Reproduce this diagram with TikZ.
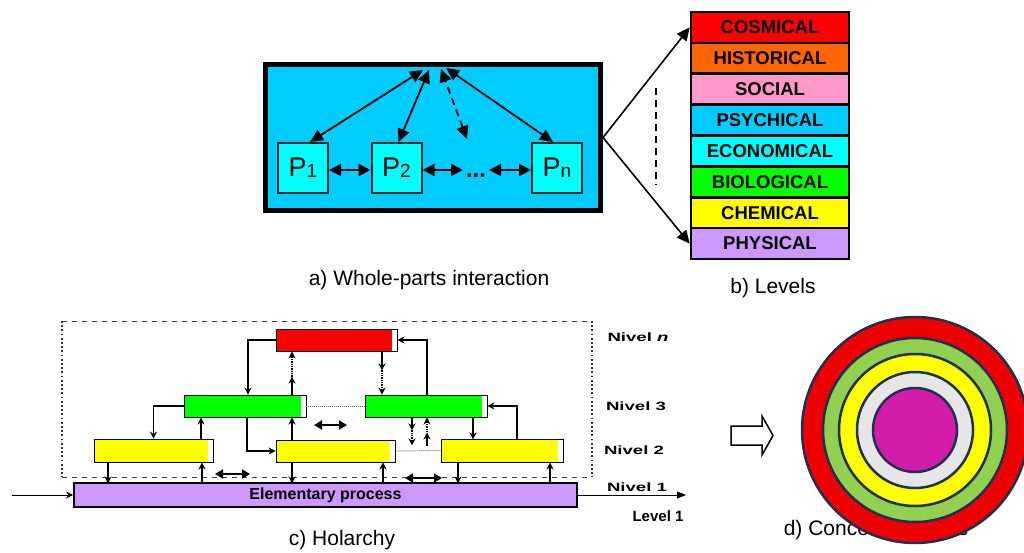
\documentclass[tikz,border=0pt]{standalone}
\usepackage{fontspec}
\setmainfont{Liberation Sans}
\usetikzlibrary{arrows.meta}
\definecolor{skyA}{HTML}{00CCFF}
\definecolor{cyanP}{HTML}{00FFFF}
\definecolor{cRed}{HTML}{FF0000}
\definecolor{cOrange}{HTML}{FF6600}
\definecolor{cPink}{HTML}{FF99CC}
\definecolor{cGreen}{HTML}{00FF00}
\definecolor{cYellow}{HTML}{FFFF00}
\definecolor{cPurple}{HTML}{CC99FF}
\definecolor{rRed}{HTML}{EE0000}
\definecolor{rGreen}{HTML}{92D050}
\definecolor{rGray}{HTML}{E6E6E6}
\definecolor{rMag}{HTML}{D21DAA}
\definecolor{rLine}{HTML}{1F3050}
\begin{document}
\begin{tikzpicture}[x=1pt,y=-1pt,
  pbox/.style={draw=black!85, line width=2, fill=cyanP, minimum width=50, minimum height=50, inner sep=0,
    font=\fontsize{27}{27}\selectfont},
  bigarr/.style={line width=1.8, -{Triangle[length=13,width=12]}},
  bigdbl/.style={line width=2.2, {Triangle[length=12,width=12]}-{Triangle[length=12,width=12]}},
  lvbox/.style={draw=black, line width=2.6, minimum width=158, minimum height=30.9, inner sep=0,
    font=\fontsize{18.5}{18.5}\selectfont\bfseries},
  hbox/.style={draw=black, line width=0.9, inner sep=0, fill=#1,
    path picture={\fill[white] ([xshift=-5]path picture bounding box.north east) rectangle (path picture bounding box.south east);}},
  harr/.style={line width=1.3, -{Stealth[length=7,width=7]}},
  hback/.style={line width=1.3, {Stealth[length=7,width=7]}-},
  hdbl/.style={line width=1.8, {Triangle[length=8,width=9]}-{Triangle[length=8,width=9]}},
  nivel/.style={font=\fontsize{12}{12}\selectfont\bfseries, xscale=1.55, inner sep=0},
  captxt/.style={font=\fontsize{21}{21}\selectfont, inner sep=0},
  ring/.style={draw=rLine, line width=2.5}
]
\useasboundingbox (0,0) rectangle (1024,552);

% ---------- a) whole-parts ----------
\node[draw=black, line width=5, fill=skyA, minimum width=335, minimum height=146, inner sep=0, anchor=north west] (whole) at (263,62) {};
\node[pbox] (p1) at (303,168) {P\raisebox{-1pt}{\fontsize{19}{19}\selectfont 1}};
\node[pbox] (p2) at (396.5,168) {P\raisebox{-1pt}{\fontsize{19}{19}\selectfont 2}};
\node[pbox] (pn) at (557,168) {P\raisebox{-1pt}{\fontsize{19}{19}\selectfont n}};
\node[inner sep=0, font=\fontsize{24}{24}\selectfont\bfseries] (dots) at (476,176) {...};
\coordinate (a1) at (423,70);
\coordinate (a2) at (429,70);
\coordinate (a3) at (441,69);
\coordinate (a4) at (446,68);
\coordinate (dashend) at (467,139);
\coordinate (d1) at (463,170);
\coordinate (d2) at (489,170);
\draw[bigarr, {Triangle[length=13,width=12]}-{Triangle[length=13,width=12]}] ([xshift=7]p1.north) -- (a1);
\draw[bigarr, {Triangle[length=13,width=12]}-{Triangle[length=13,width=12]}] ([xshift=2]p2.north) -- (a2);
\draw[bigarr, {Triangle[length=13,width=12]}-{Triangle[length=13,width=12]}, dash pattern=on 7 off 5] (dashend) -- (a3);
\draw[bigarr, {Triangle[length=13,width=12]}-{Triangle[length=13,width=12]}] ([xshift=-4]pn.north) -- (a4);
\draw[bigdbl] (p1.east |- 0,170) -- (p2.west |- 0,170);
\draw[bigdbl] (p2.east |- 0,170) -- (d1);
\draw[bigdbl] (d2) -- (pn.west |- 0,170);
\node[captxt] (capa) at (429,280) {a) Whole-parts interaction};

% ---------- b) levels ----------
\node[lvbox, fill=cRed]    (cosmical)   at (770,27.4)  {COSMICAL};
\node[lvbox, fill=cOrange] (historical) at (770,58.3)  {HISTORICAL};
\node[lvbox, fill=cPink]   (social)     at (770,89.2)  {SOCIAL};
\node[lvbox, fill=skyA]    (psychical)  at (770,120.1) {PSYCHICAL};
\node[lvbox, fill=cyanP]   (economical) at (770,150.9) {ECONOMICAL};
\node[lvbox, fill=cGreen]  (biological) at (770,181.8) {BIOLOGICAL};
\node[lvbox, fill=cYellow] (chemical)   at (770,212.7) {CHEMICAL};
\node[lvbox, fill=cPurple] (physical)   at (770,243.6) {PHYSICAL};
\draw[bigarr, line width=1.6] (whole.east) -- (cosmical.west);
\draw[bigarr, line width=1.6] (whole.east) -- (physical.west);
\coordinate (vd1) at (656,88);
\coordinate (vd2) at (656,185);
\draw[line width=2, dash pattern=on 7 off 5] (vd1) -- (vd2);
\node[captxt] (capb) at (773,288) {b) Levels};

% ---------- c) holarchy ----------
\coordinate (f1) at (62,321);
\coordinate (f2) at (592,321);
\coordinate (f3) at (592,477);
\coordinate (f4) at (62,477);
\draw[black!75, line width=1, dash pattern=on 5 off 5] (f1) -- (f2);
\draw[black!75, line width=1, dash pattern=on 5 off 5] (f4) -- (f3);
\draw[black!80, line width=1.8, dash pattern=on 1.8 off 2.4] (f1) -- (f4);
\draw[black!80, line width=1.8, dash pattern=on 1.8 off 2.4] (f2) -- (f3);

\node[hbox=cRed, minimum width=121, minimum height=22] (red) at (336.5,340) {};
\node[hbox=cGreen, minimum width=122, minimum height=22] (gl) at (245,406) {};
\node[hbox=cGreen, minimum width=122, minimum height=22] (gr) at (426,406) {};
\node[hbox=cYellow, minimum width=119, minimum height=23] (yl) at (153.5,450.5) {};
\node[hbox=cYellow, minimum width=119, minimum height=22] (ym) at (335.5,451) {};
\node[hbox=cYellow, minimum width=122, minimum height=23] (yr) at (502,450.5) {};
\node[draw=black, line width=1.8, fill=cPurple, minimum width=503, minimum height=24, inner sep=0,
  font=\fontsize{16}{16}\selectfont\bfseries] (purple) at (325.5,495) {Elementary process};

% dotted links between same-level boxes
\draw[black!60, line width=1, densely dotted] (gl.east) -- (gr.west);
\draw[black!60, line width=1, densely dotted] (ym.east) -- (yr.west);

% red <-> green left
\draw[harr] (red.west) -| ([xshift=3]gl.north);
\draw[harr] ([xshift=47]gl.north) -- ++(0,-18) coordinate (m1);
\draw[harr, densely dotted] (m1) -- (m1 |- red.south);
% red <-> green right
\draw[harr] ([xshift=1]gr.north) |- (red.east);
\draw[harr] ([xshift=45.5]red.south) -- ++(0,19) coordinate (m2);
\draw[harr, densely dotted] (m2) -- (m2 |- gr.north);
% green left <-> yellows
\draw[harr] (gl.west) -| (yl.north);
\draw[hback] ([xshift=-44]gl.south) -- ++(0,22);
\draw[harr] ([xshift=2]gl.south) |- (ym.west);
\draw[hback] ([xshift=47]gl.south) -- ++(0,23);
% green right <-> yellows
\draw[harr] ([xshift=15]yr.north) |- (gr.east);
\draw[harr] ([xshift=47]gr.south) -- ++(0,22);
\draw[harr] ([xshift=-14]gr.south) -- ++(0,13) coordinate (m4);
\draw[harr, densely dotted] (m4) -- ++(0,15);
\draw[hback, densely dotted] ([xshift=1]gr.south) -- ++(0,15) coordinate (m3);
\draw[hback] (m3) -- ++(0,14);
% yellows <-> purple
\draw[harr] ([xshift=-45.5]yl.south) -- ++(0,21);
\draw[hback] ([xshift=48.5]yl.south) -- ++(0,21);
\draw[harr] ([xshift=-43.5]ym.south) -- ++(0,21);
\draw[hback] ([xshift=47.5]ym.south) -- ++(0,21);
\draw[harr] ([xshift=-44]yr.south) -- ++(0,21);
\draw[hback] ([xshift=48]yr.south) -- ++(0,21);
% horizontal double arrows
\coordinate (h1a) at (314,425); \coordinate (h1b) at (347,425);
\coordinate (h2a) at (215,474); \coordinate (h2b) at (250,474);
\coordinate (h3a) at (405,478); \coordinate (h3b) at (442,478);
\draw[hdbl] (h1a) -- (h1b);
\draw[hdbl] (h2a) -- (h2b);
\draw[hdbl] (h3a) -- (h3b);
% input / output
\coordinate (inp) at (12,495);
\coordinate (outp) at (686,495);
\draw[harr, line width=0.8] (inp) -- (purple.west);
\draw[line width=0.8, -{Triangle[length=9,width=7]}] (purple.east) -- (outp);

\node[nivel] (nn) at (638,337) {Nivel \textit{n}};
\node[nivel] (n3) at (636,406) {Nivel 3};
\node[nivel] (n2) at (634,450) {Nivel 2};
\node[nivel] (n1) at (637,487) {Nivel 1};
\node[font=\fontsize{15}{15}\selectfont\bfseries, inner sep=0] (l1) at (658,516) {Level 1};
\node[captxt] (capc) at (342,540) {c) Holarchy};

% ---------- d) concentric ----------
\node[captxt] (capd) at (876,530) {d) Concentric levels};
\draw[line width=1.5, fill=white] (731,426) -- (762,426) -- (762,416) -- (773,435.5) -- (762,455) -- (762,445) -- (731,445) -- cycle;
\coordinate (cc) at (915,430);
\draw[ring, fill=rRed] (cc) circle[radius=113];
\draw[ring, fill=rGreen] (cc) circle[radius=92];
\draw[ring, fill=cYellow] (cc) circle[radius=76];
\draw[ring, fill=rGray] (cc) circle[radius=58];
\draw[ring, fill=rMag] (cc) circle[radius=42];
\end{tikzpicture}
\end{document}
